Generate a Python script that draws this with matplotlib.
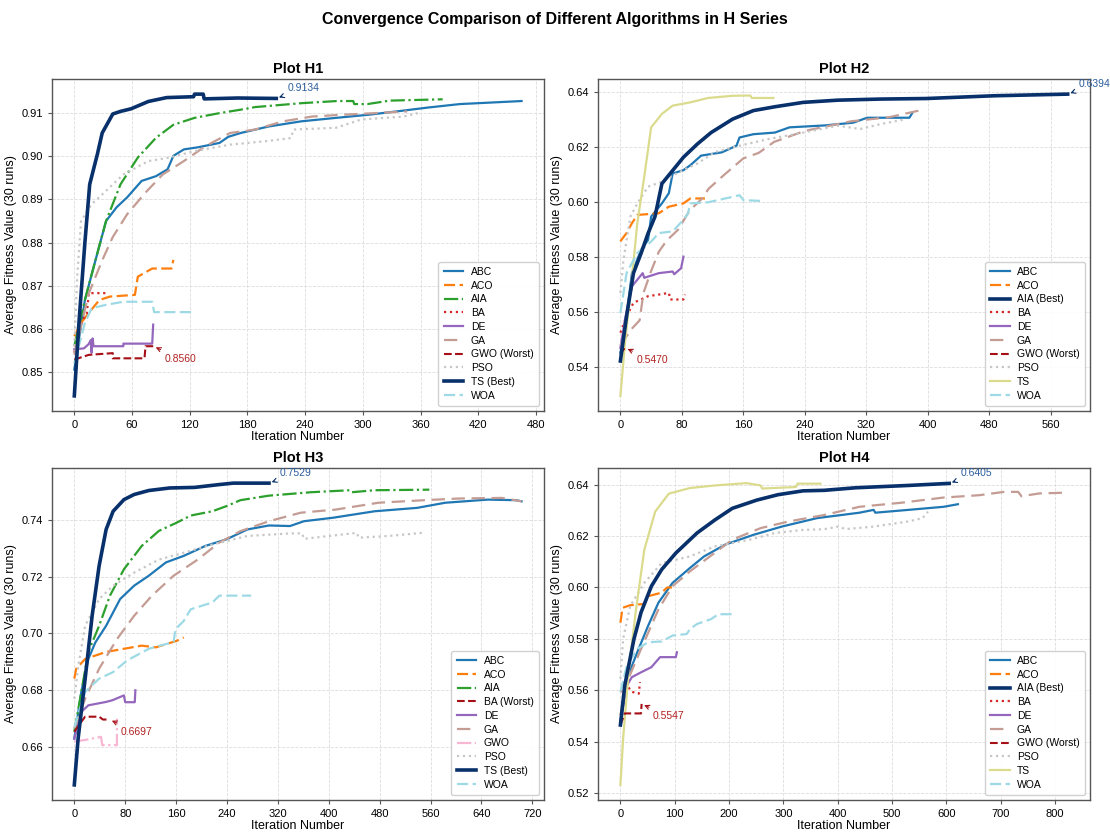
import matplotlib.pyplot as plt

plt.rcParams['font.family'] = ['Liberation Sans', 'DejaVu Sans']

algos = ["ABC", "ACO", "AIA", "BA", "DE", "GA", "GWO", "PSO", "TS", "WOA"]
colors = {"ABC": "#1f77b4", "ACO": "#ff7f0e", "AIA": "#2ca02c", "BA": "#d62728",
          "DE": "#9467bd", "GA": "#c49c94", "GWO": "#f7b6d2", "PSO": "#c7c7c7",
          "TS": "#dbdb8d", "WOA": "#9edae5"}
styles = {"ABC": "-", "ACO": (0, (5, 2)), "AIA": "-.", "BA": ":", "DE": "-",
          "GA": (0, (6, 3)), "GWO": "-.", "PSO": ":", "TS": "-", "WOA": (0, (5, 2))}
best_color = "#08306b"
worst_color = "#a50f15"

# ---- H1 (x = iteration, y = avg fitness) ----
h1_abc = [(0, 0.8506), (11, 0.8667), (22, 0.8759), (33, 0.885), (44, 0.8882), (55, 0.8905), (70, 0.8943),
          (85, 0.8954), (97, 0.897), (103, 0.9001), (114, 0.9016), (129, 0.9021), (151, 0.9031), (160, 0.9045),
          (173, 0.9054), (202, 0.9069), (236, 0.9081), (272, 0.9089), (305, 0.9096), (339, 0.9105),
          (368, 0.9113), (401, 0.9121), (438, 0.9125), (465, 0.9128)]
h1_aco = [(0, 0.8583), (7, 0.8614), (15, 0.8637), (26, 0.8667), (37, 0.8675), (63, 0.8679), (66, 0.8721),
          (81, 0.874), (101, 0.874), (103, 0.876)]
h1_aia = [(0, 0.856), (11, 0.8667), (20, 0.8743), (33, 0.885), (48, 0.8935), (66, 0.8997), (85, 0.9043),
          (103, 0.9073), (125, 0.9089), (151, 0.91), (173, 0.9108), (188, 0.9114), (236, 0.9123),
          (273, 0.9128), (290, 0.9128), (291, 0.9121), (305, 0.9121), (328, 0.9129), (383, 0.9132)]
h1_ba = [(0, 0.8545), (8, 0.862), (13, 0.8635), (15, 0.8683), (35, 0.8683)]
h1_de = [(0, 0.8553), (10, 0.8555), (15, 0.8565), (17, 0.8574), (18, 0.8545), (19, 0.8578), (20, 0.856),
         (51, 0.856), (51, 0.8566), (81, 0.8566), (82, 0.861)]
h1_ga = [(0, 0.854), (15, 0.8682), (29, 0.8759), (40, 0.8813), (55, 0.8866), (74, 0.8916), (92, 0.8958),
         (114, 0.8989), (136, 0.9023), (162, 0.9054), (188, 0.9062), (217, 0.9081), (247, 0.9092),
         (276, 0.9096), (313, 0.91), (346, 0.9104)]
h1_gwo = [(0, 0.8529), (15, 0.854), (40, 0.8544), (40, 0.8532), (73, 0.8532), (74, 0.856), (82, 0.856)]
h1_pso = [(0, 0.856), (3, 0.872), (7, 0.885), (18, 0.8889), (33, 0.892), (51, 0.8958), (77, 0.8989),
          (99, 0.8997), (125, 0.9012), (162, 0.9027), (199, 0.9035), (225, 0.9042), (228, 0.9062),
          (272, 0.9066), (298, 0.9085), (342, 0.9092), (357, 0.91)]
h1_ts = [(0, 0.8445), (5, 0.862), (11, 0.88), (16, 0.8935), (24, 0.9005), (29, 0.9054), (40, 0.9098),
         (48, 0.9104), (59, 0.911), (77, 0.9127), (96, 0.9136), (124, 0.9138), (125, 0.9144),
         (134, 0.9144), (135, 0.9133), (170, 0.9135), (210, 0.9134)]
h1_woa = [(0, 0.852), (11, 0.8614), (18, 0.8648), (33, 0.8656), (51, 0.8663), (81, 0.8663), (83, 0.8639),
          (123, 0.8639)]

# ---- H2 ----
h2_abc = [(0, 0.5452), (8, 0.5585), (15, 0.5742), (27, 0.5827), (36, 0.5863), (40, 0.5948), (54, 0.5996),
          (63, 0.6033), (68, 0.6105), (82, 0.6117), (91, 0.6135), (105, 0.617), (132, 0.6182),
          (151, 0.6206), (155, 0.6236), (173, 0.6248), (201, 0.6254), (220, 0.6273), (266, 0.628),
          (303, 0.629), (321, 0.6308), (376, 0.6308), (380, 0.6326)]
h2_aco = [(0, 0.5858), (8, 0.5888), (15, 0.5924), (22, 0.5954), (50, 0.596), (63, 0.5984), (82, 0.5996),
          (91, 0.6014), (110, 0.6014)]
h2_aia = [(0, 0.5422), (8, 0.5585), (17, 0.5742), (27, 0.5815), (36, 0.5887), (45, 0.5948), (54, 0.6068),
          (68, 0.6116), (82, 0.6164), (100, 0.6212), (118, 0.6254), (146, 0.6303), (173, 0.6334),
          (201, 0.6348), (238, 0.6364), (283, 0.6372), (338, 0.6376), (398, 0.6378), (486, 0.6388),
          (582, 0.6394)]
h2_ba = [(0, 0.5525), (8, 0.5585), (17, 0.5634), (36, 0.5658), (50, 0.5664), (63, 0.567), (65, 0.5646),
         (82, 0.5646), (84, 0.5664)]
h2_de = [(0, 0.547), (6, 0.5573), (15, 0.5694), (22, 0.5718), (29, 0.5742), (31, 0.5725), (50, 0.5742),
         (68, 0.5748), (70, 0.5738), (79, 0.576), (82, 0.5802)]
h2_ga = [(0, 0.548), (15, 0.554), (25, 0.557), (30, 0.567), (40, 0.575), (50, 0.582), (60, 0.586),
         (75, 0.59), (90, 0.597), (105, 0.601), (115, 0.605), (135, 0.61), (160, 0.616), (180, 0.618),
         (200, 0.622), (240, 0.626), (300, 0.6295), (350, 0.631), (390, 0.6335)]
h2_gwo = [(0, 0.5445), (3, 0.546), (6, 0.547)]
h2_pso = [(0, 0.567), (4, 0.579), (13, 0.5948), (22, 0.5996), (36, 0.6057), (54, 0.6075), (73, 0.6105),
          (100, 0.6141), (123, 0.6183), (155, 0.6206), (192, 0.623), (238, 0.6254), (283, 0.6279),
          (312, 0.6267), (339, 0.6285), (372, 0.6303)]
h2_ts = [(0, 0.5295), (6, 0.5488), (13, 0.567), (22, 0.5924), (31, 0.6093), (40, 0.6273), (54, 0.6322),
         (68, 0.6352), (91, 0.6364), (114, 0.638), (146, 0.6388), (169, 0.6389), (171, 0.638), (199, 0.638)]
h2_woa = [(0, 0.5597), (8, 0.5742), (22, 0.5815), (40, 0.5857), (50, 0.5888), (68, 0.5894), (82, 0.5936),
          (88, 0.596), (91, 0.5996), (114, 0.6), (146, 0.602), (155, 0.6026), (160, 0.6008), (183, 0.6005)]

# ---- H3 ----
h3_abc = [(0, 0.663), (11, 0.6794), (22, 0.691), (33, 0.6968), (50, 0.7027), (72, 0.7121), (94, 0.7168),
          (117, 0.7203), (144, 0.725), (172, 0.7273), (206, 0.7308), (239, 0.7331), (272, 0.7366),
          (306, 0.738), (339, 0.7378), (361, 0.7395), (406, 0.7407), (472, 0.743), (539, 0.7442),
          (583, 0.746), (650, 0.7471), (694, 0.7469), (703, 0.7465)]
h3_aco = [(0, 0.6841), (3, 0.6876), (17, 0.691), (50, 0.6935), (78, 0.6946), (106, 0.6957), (128, 0.6951),
          (161, 0.6974), (172, 0.6986)]
h3_aia = [(0, 0.6654), (11, 0.6794), (22, 0.6935), (39, 0.7027), (56, 0.7133), (78, 0.7226), (106, 0.7308),
          (133, 0.7361), (161, 0.739), (183, 0.7415), (217, 0.743), (239, 0.7448), (261, 0.7469),
          (306, 0.7485), (372, 0.7497), (433, 0.7504), (436, 0.7497), (472, 0.7504), (558, 0.7506)]
h3_ba = [(0, 0.6654), (11, 0.6689), (17, 0.6707), (39, 0.6707), (45, 0.6697), (55, 0.6697)]
h3_de = [(0, 0.663), (11, 0.6724), (22, 0.6747), (50, 0.6759), (60, 0.6765), (78, 0.6782), (80, 0.6758),
         (95, 0.6758), (96, 0.68)]
h3_ga = [(0, 0.6665), (17, 0.677), (39, 0.6876), (67, 0.698), (94, 0.7062), (122, 0.7133), (156, 0.7203),
         (194, 0.726), (228, 0.732), (261, 0.736), (306, 0.7395), (356, 0.7425), (411, 0.7436),
         (478, 0.746), (550, 0.7469), (606, 0.7475), (672, 0.7477), (703, 0.7465)]
h3_gwo = [(0, 0.662), (17, 0.6625), (42, 0.6636), (44, 0.6607), (67, 0.6607), (67, 0.67)]
h3_pso = [(0, 0.677), (6, 0.6883), (17, 0.7027), (39, 0.7121), (61, 0.7168), (94, 0.7214), (133, 0.726),
          (172, 0.7284), (217, 0.7313), (272, 0.7343), (339, 0.7352), (358, 0.7352), (361, 0.7333),
          (444, 0.7354), (447, 0.7337), (494, 0.7343), (547, 0.7354)]
h3_ts = [(0, 0.6467), (6, 0.663), (17, 0.684), (28, 0.7062), (39, 0.7238), (50, 0.7366), (61, 0.743),
         (78, 0.7471), (94, 0.7489), (117, 0.7503), (150, 0.7512), (189, 0.7514), (228, 0.7524),
         (250, 0.7529), (306, 0.7529)]
h3_woa = [(0, 0.667), (17, 0.6794), (39, 0.6841), (61, 0.6864), (83, 0.6905), (117, 0.6946), (156, 0.697),
          (159, 0.7015), (172, 0.7044), (183, 0.7085), (217, 0.7109), (228, 0.7133), (278, 0.7133)]

# ---- H4 ----
h4_abc = [(0, 0.5478), (12, 0.5645), (31, 0.5748), (51, 0.5851), (70, 0.5941), (96, 0.6018), (128, 0.6076),
          (154, 0.6121), (193, 0.6167), (245, 0.6205), (297, 0.6237), (362, 0.627), (440, 0.6291),
          (466, 0.6302), (469, 0.6291), (530, 0.6302), (595, 0.6314), (621, 0.6324)]
h4_aco = [(0, 0.5863), (4, 0.5921), (18, 0.5931), (44, 0.5936), (51, 0.5966), (76, 0.598), (86, 0.6),
          (95, 0.6)]
h4_aia = [(0, 0.5465), (8, 0.5619), (25, 0.58), (38, 0.5903), (57, 0.6005), (76, 0.607), (102, 0.6134),
          (141, 0.6212), (174, 0.6263), (206, 0.6308), (251, 0.634), (290, 0.6361), (336, 0.6376),
          (375, 0.6378), (433, 0.6388), (530, 0.6397), (605, 0.6405)]
h4_ba = [(0, 0.5594), (12, 0.5619), (21, 0.5594), (34, 0.5587), (36, 0.5632)]
h4_de = [(0, 0.5478), (12, 0.5619), (21, 0.5651), (38, 0.567), (57, 0.569), (73, 0.5729), (102, 0.5729),
         (104, 0.5748)]
h4_ga = [(0, 0.5503), (12, 0.5632), (38, 0.5761), (70, 0.5915), (96, 0.6005), (128, 0.6063), (161, 0.6115),
         (206, 0.6186), (258, 0.6231), (310, 0.6257), (375, 0.6282), (440, 0.6314), (518, 0.633),
         (595, 0.635), (660, 0.6359), (706, 0.6372), (732, 0.6372), (738, 0.6355), (771, 0.6366),
         (823, 0.6369)]
h4_gwo = [(0, 0.5465), (8, 0.551), (38, 0.551), (39, 0.5547)]
h4_pso = [(0, 0.5645), (5, 0.58), (18, 0.5928), (44, 0.6018), (76, 0.6095), (128, 0.6121), (174, 0.616),
          (238, 0.6186), (284, 0.6212), (336, 0.6224), (375, 0.6227), (401, 0.6237), (414, 0.6227),
          (466, 0.6237), (530, 0.6257), (556, 0.627), (566, 0.6295)]
h4_ts = [(0, 0.5232), (5, 0.5412), (15, 0.5669), (28, 0.5903), (44, 0.6147), (64, 0.6295), (89, 0.6365),
         (128, 0.6387), (174, 0.6397), (232, 0.6406), (258, 0.6397), (261, 0.6385), (323, 0.6391),
         (326, 0.6404), (368, 0.6404)]
h4_woa = [(0, 0.5594), (12, 0.5697), (31, 0.5761), (51, 0.5787), (76, 0.579), (96, 0.5813), (122, 0.5819),
          (128, 0.5838), (141, 0.5858), (167, 0.5877), (180, 0.5896), (212, 0.5896)]

panels = [
    ("Plot H1", [h1_abc, h1_aco, h1_aia, h1_ba, h1_de, h1_ga, h1_gwo, h1_pso, h1_ts, h1_woa], "TS", "GWO", 60),
    ("Plot H2", [h2_abc, h2_aco, h2_aia, h2_ba, h2_de, h2_ga, h2_gwo, h2_pso, h2_ts, h2_woa], "AIA", "GWO", 80),
    ("Plot H3", [h3_abc, h3_aco, h3_aia, h3_ba, h3_de, h3_ga, h3_gwo, h3_pso, h3_ts, h3_woa], "TS", "BA", 80),
    ("Plot H4", [h4_abc, h4_aco, h4_aia, h4_ba, h4_de, h4_ga, h4_gwo, h4_pso, h4_ts, h4_woa], "AIA", "GWO", 100),
]

fig, axes = plt.subplots(2, 2, figsize=(11.1, 8.32), dpi=100)
plt.subplots_adjust(left=0.0468, right=0.982, bottom=0.0385, top=0.905, wspace=0.11, hspace=0.172)

for ax, (title, series, best, worst, xstep) in zip(axes.flat, panels):
    for name, pts in zip(algos, series):
        xs = [p[0] for p in pts]
        ys = [p[1] for p in pts]
        if name == best:
            ax.plot(xs, ys, color=best_color, lw=2.6, ls='-', label=name + " (Best)", zorder=5)
            ax.annotate(f"{ys[-1]:.4f}", xy=(xs[-1], ys[-1]), xytext=(8, 5), textcoords='offset points',
                        color='#2b5d9b', fontsize=7.5,
                        arrowprops=dict(arrowstyle='->', color=best_color, lw=0.8))
        elif name == worst:
            ax.plot(xs, ys, color=worst_color, lw=1.5, ls='--', label=name + " (Worst)", zorder=4)
            ax.annotate(f"{ys[-1]:.4f}", xy=(xs[-1], ys[-1]), xytext=(8, -11), textcoords='offset points',
                        color='#b22222', fontsize=7.5,
                        arrowprops=dict(arrowstyle='->', color=worst_color, lw=0.8))
        else:
            ax.plot(xs, ys, color=colors[name], lw=1.6, ls=styles[name], label=name)
    ax.set_title(title, fontsize=10.5, fontweight='bold', pad=4)
    ax.set_xlabel("Iteration Number", fontsize=9, labelpad=1)
    ax.set_ylabel("Average Fitness Value (30 runs)", fontsize=9, labelpad=3)
    ax.xaxis.set_major_locator(plt.MultipleLocator(xstep))
    ax.tick_params(labelsize=8, length=3, color='#555555')
    ax.grid(True, ls='--', lw=0.6, color='#dddddd')
    for sp in ax.spines.values():
        sp.set_color('#555555')
        sp.set_linewidth(1.0)
    ax.legend(loc='lower right', fontsize=7.5, framealpha=0.9, edgecolor='#cccccc',
              handlelength=1.9, handletextpad=0.7, labelspacing=0.36, borderpad=0.5)

axes[0, 0].set_yticks([0.85, 0.86, 0.87, 0.88, 0.89, 0.90, 0.91])
axes[0, 0].set_yticklabels(["0.85", "0.86", "0.87", "0.88", "0.89", "0.90", "0.91"])

fig.suptitle("Convergence Comparison of Different Algorithms in H Series", fontsize=11.5, fontweight='bold', y=0.985)
plt.savefig("out.png", dpi=100)
